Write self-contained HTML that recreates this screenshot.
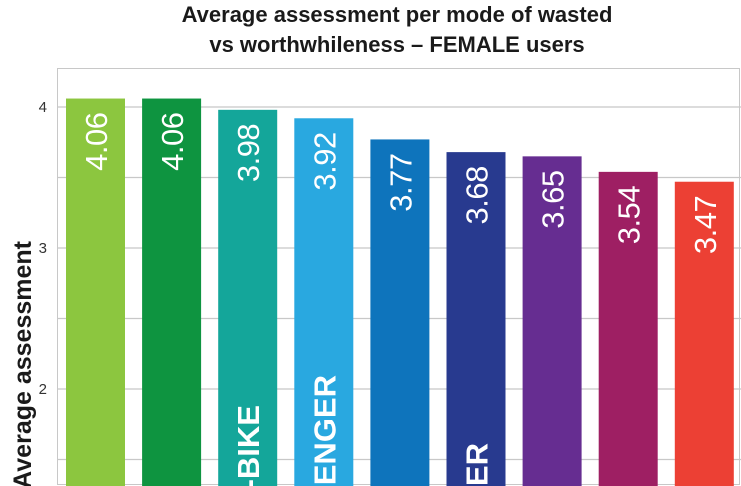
<!DOCTYPE html>
<html><head><meta charset="utf-8"><style>
html,body{margin:0;padding:0;background:#fff;width:741px;height:486px;overflow:hidden}
svg{display:block;font-family:"Liberation Sans",sans-serif}
</style></head><body>
<svg id="chart" width="741" height="486" viewBox="0 0 741 486" overflow="hidden">
<defs><clipPath id="frame"><rect x="0" y="0" width="741" height="486"/></clipPath></defs>
<g clip-path="url(#frame)">
<text x="397" y="22" text-anchor="middle" font-size="22" font-weight="bold" fill="#1a1a1a">Average assessment per mode of wasted</text>
<text x="397" y="52" text-anchor="middle" font-size="22" font-weight="bold" fill="#1a1a1a">vs worthwhileness – FEMALE users</text>
<rect x="57.5" y="68.5" width="682" height="416" fill="none" stroke="#c8c8c8"/>
<g id="grid"></g>
<g id="bars"></g>
<text transform="translate(31,241) rotate(-90)" text-anchor="end" font-size="25" font-weight="bold" fill="#1a1a1a">Average assessment</text>
</g>
</svg>
<script>
const categories=["WALK","RUN","E-BIKE","CAR PASSENGER","BUS","CAR DRIVER","TRAIN","METRO","TRAM"];
const values=[4.06,4.06,3.98,3.92,3.77,3.68,3.65,3.54,3.47];
const colors=["#8cc63f","#0e9440","#14a69a","#29a8e0","#0e74bc","#283a8f","#662d91","#9e1f63","#ec4034"];
const yTicks=[1.5,2,2.5,3,3.5,4];
const yTickLabels=["","2","","3","","4"];
const catLabelEnd=[620,620,405,375,620,443,620,620,620];
const NS="http://www.w3.org/2000/svg";
const y=v=>107-(v-4)*141;
const x=i=>66+76.1*i;
const bw=59;
const grid=document.getElementById('grid'),bars=document.getElementById('bars');
function mk(tag,attrs,parent){const e=document.createElementNS(NS,tag);for(const k in attrs)e.setAttribute(k,attrs[k]);parent.appendChild(e);return e;}
yTicks.forEach((t,i)=>{
  const l=mk('line',{x1:58,x2:741,y1:y(t),y2:y(t),stroke:'#c8c8c8','stroke-width':1.2},grid);
  
  
  if(yTickLabels[i]){const tx=mk('text',{x:47,y:y(t)+5,'text-anchor':'end','font-size':15,fill:'#333'},grid);
  tx.textContent=yTickLabels[i];
  
  }
});
values.forEach((v,i)=>{
  const r=mk('rect',{x:x(i),y:y(v),width:bw,height:486-y(v),fill:colors[i]},bars);
  
  
  const cx=x(i)+bw/2;
  const t=mk('text',{transform:`translate(${cx+1},${y(v)+14}) rotate(-90)`,'text-anchor':'end','dominant-baseline':'central','font-size':31,'font-weight':'300',fill:'#fff','letter-spacing':'-0.5'},bars);
  t.textContent=v.toFixed(2);
  
  
  const c=mk('text',{transform:`translate(${cx+1},${catLabelEnd[i]}) rotate(-90)`,'text-anchor':'end','dominant-baseline':'central','font-size':31,'font-weight':'bold',fill:'#fff'},bars);
  c.textContent=categories[i];
  
  
});
</script>
</body></html>
